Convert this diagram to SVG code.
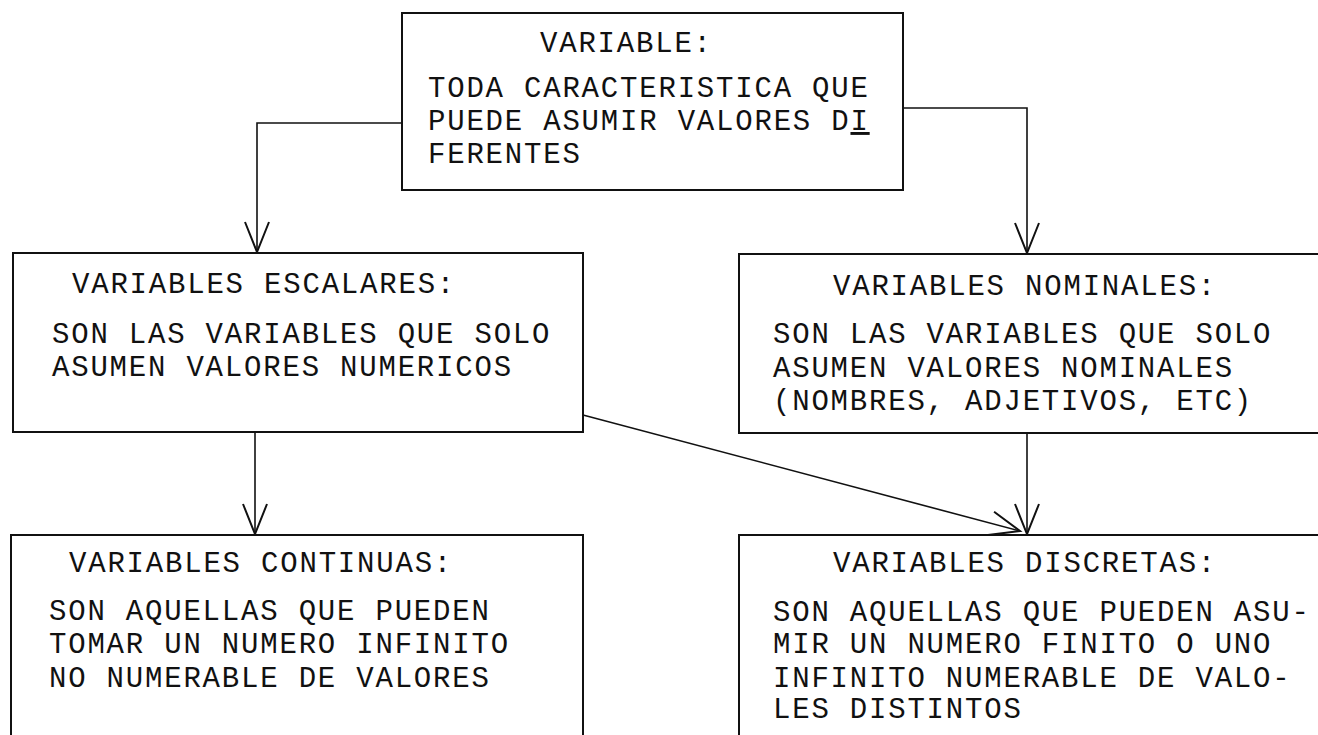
<svg xmlns="http://www.w3.org/2000/svg" width="1318" height="735" viewBox="0 0 1318 735">
<style>
.box{fill:#fff;stroke:#111;stroke-width:2}
.t{font-family:"Liberation Mono","Courier New",monospace;font-size:29px;letter-spacing:1.8px;fill:#111}
.c{fill:none;stroke:#111;stroke-width:1.6}
</style>
<defs>
<marker id="v" markerUnits="userSpaceOnUse" markerWidth="40" markerHeight="40" refX="0" refY="0" orient="auto" overflow="visible">
<path d="M -30,-12 L 0,0 L -30,12" fill="none" stroke="#111" stroke-width="2"/>
</marker>
</defs>
<rect width="1318" height="735" fill="#fff"/>
<g id="connectors">
<polyline class="c" points="402,123 257,123 257,252" marker-end="url(#v)"/>
<polyline class="c" points="903,108 1027,108 1027,253" marker-end="url(#v)"/>
<line class="c" x1="255" y1="433" x2="255" y2="534" marker-end="url(#v)"/>
<line class="c" x1="1027" y1="433" x2="1027" y2="534" marker-end="url(#v)"/>
<line class="c" x1="583" y1="415" x2="1020" y2="531" marker-end="url(#v)"/>
</g>
<g id="variable">
<rect class="box" x="402" y="13" width="501" height="177"/>
<text class="t" x="540" y="52">VARIABLE:</text>
<text class="t" x="428" y="97">TODA CARACTERISTICA QUE</text>
<text class="t" x="428" y="130">PUEDE ASUMIR VALORES D<tspan text-decoration="underline">I</tspan></text>
<text class="t" x="428" y="163">FERENTES</text>
</g>
<g id="escalares">
<rect class="box" x="13" y="253" width="570" height="179"/>
<text class="t" x="72" y="293">VARIABLES ESCALARES:</text>
<text class="t" x="52" y="343">SON LAS VARIABLES QUE SOLO</text>
<text class="t" x="52" y="376">ASUMEN VALORES NUMERICOS</text>
</g>
<g id="nominales">
<rect class="box" x="739" y="254" width="600" height="179"/>
<text class="t" x="833" y="295">VARIABLES NOMINALES:</text>
<text class="t" x="773" y="343">SON LAS VARIABLES QUE SOLO</text>
<text class="t" x="773" y="377">ASUMEN VALORES NOMINALES</text>
<text class="t" x="773" y="410">(NOMBRES, ADJETIVOS, ETC)</text>
</g>
<g id="continuas">
<rect class="box" x="11" y="535" width="572" height="220"/>
<text class="t" x="69" y="572">VARIABLES CONTINUAS:</text>
<text class="t" x="49" y="620">SON AQUELLAS QUE PUEDEN</text>
<text class="t" x="49" y="653">TOMAR UN NUMERO INFINITO</text>
<text class="t" x="49" y="687">NO NUMERABLE DE VALORES</text>
</g>
<g id="discretas">
<rect class="box" x="739" y="535" width="600" height="220"/>
<text class="t" x="833" y="572">VARIABLES DISCRETAS:</text>
<text class="t" x="773" y="621">SON AQUELLAS QUE PUEDEN ASU-</text>
<text class="t" x="773" y="653">MIR UN NUMERO FINITO O UNO</text>
<text class="t" x="773" y="687">INFINITO NUMERABLE DE VALO-</text>
<text class="t" x="773" y="718">LES DISTINTOS</text>
</g>
</svg>
